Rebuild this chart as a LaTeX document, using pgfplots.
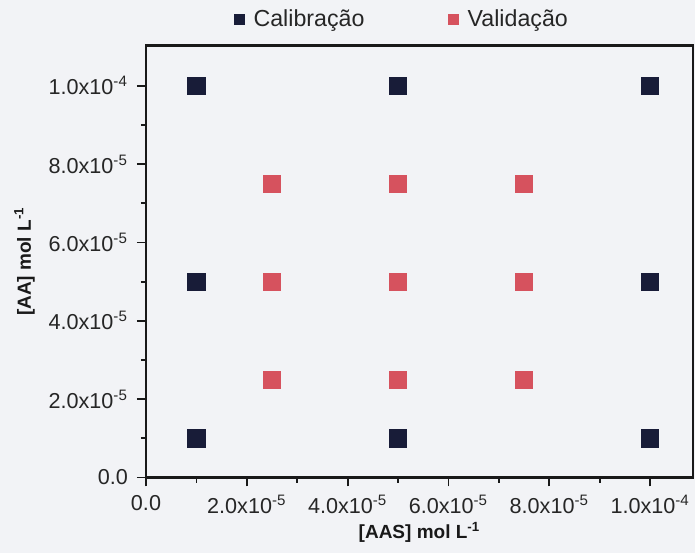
\documentclass[border=0pt]{standalone}
\usepackage{fontspec}
\setmainfont{Liberation Sans}
\usepackage{pgfplots}
\pgfplotsset{compat=1.18}
\usetikzlibrary{backgrounds}

\definecolor{calib}{RGB}{24,28,56}
\definecolor{valid}{RGB}{214,82,94}
\definecolor{paper}{RGB}{242,243,246}

\newcommand{\sci}[2]{#1x10\textsuperscript{#2}}

\begin{document}
\begin{tikzpicture}
\begin{axis}[
  name=ax,
  scale only axis,
  width=273.5pt, height=216pt,
  xmin=0, xmax=1.085e-4,
  ymin=0, ymax=1.103e-4,
  axis line style={line width=1.1pt, black!90},
  every tick/.style={line width=0.9pt, black!90},
  tick align=outside,
  xtick pos=bottom, ytick pos=left,
  major tick length=4.5pt, minor tick length=2.6pt,
  xtick={0,2e-5,4e-5,6e-5,8e-5,1e-4},
  ytick={0,2e-5,4e-5,6e-5,8e-5,1e-4},
  minor x tick num=1, minor y tick num=1,
  xticklabels={0.0,\sci{2.0}{-5},\sci{4.0}{-5},\sci{6.0}{-5},\sci{8.0}{-5},\sci{1.0}{-4}},
  yticklabels={0.0,\sci{2.0}{-5},\sci{4.0}{-5},\sci{6.0}{-5},\sci{8.0}{-5},\sci{1.0}{-4}},
  scaled ticks=false,
  ticklabel style={font=\fontsize{10.8}{12}\selectfont, text=black!85},
  xticklabel style={yshift=-1pt},
  yticklabel style={xshift=-1pt},
  xlabel={\textbf{[AAS] mol L\textsuperscript{-1}}},
  ylabel={\textbf{[AA] mol L\textsuperscript{-1}}},
  label style={font=\fontsize{9.5}{11}\selectfont, text=black!90},
  xlabel style={yshift=3pt},
  legend columns=2,
  legend style={at={(0.47,1)}, anchor=south, yshift=4pt, draw=none, fill=none,
    font=\fontsize{11.6}{13}\selectfont, text=black!85,
    /tikz/every even column/.append style={column sep=40pt}},
  legend image post style={mark size=2.6pt},
  legend image code/.code={\path[draw=none,fill=none] (0pt,0pt) -- (5pt,0pt);\draw plot coordinates {(0pt,0pt)};},
]
\addplot[only marks, mark=square*, mark size=4.3pt, draw=calib, fill=calib]
  coordinates {
    (1e-5,1e-5) (5e-5,1e-5) (1e-4,1e-5)
    (1e-5,5e-5) (5e-5,5e-5) (1e-4,5e-5)
    (1e-5,1e-4) (5e-5,1e-4) (1e-4,1e-4)
  };
\addlegendentry{Calibração}
\addplot[only marks, mark=square*, mark size=4.3pt, draw=valid, fill=valid]
  coordinates {
    (2.5e-5,2.5e-5) (5e-5,2.5e-5) (7.5e-5,2.5e-5)
    (2.5e-5,5e-5)   (5e-5,5e-5)   (7.5e-5,5e-5)
    (2.5e-5,7.5e-5) (5e-5,7.5e-5) (7.5e-5,7.5e-5)
  };
\addlegendentry{Validação}
\end{axis}
\pgfresetboundingbox
\coordinate (bl) at ([xshift=-73pt,yshift=-38pt]ax.south west);
\coordinate (tr) at ([xshift=1pt,yshift=22.75pt]ax.north east);
\begin{scope}[on background layer]
  \fill[paper] (bl) rectangle (tr);
\end{scope}
\path[use as bounding box] (bl) rectangle (tr);
\end{tikzpicture}
\end{document}
